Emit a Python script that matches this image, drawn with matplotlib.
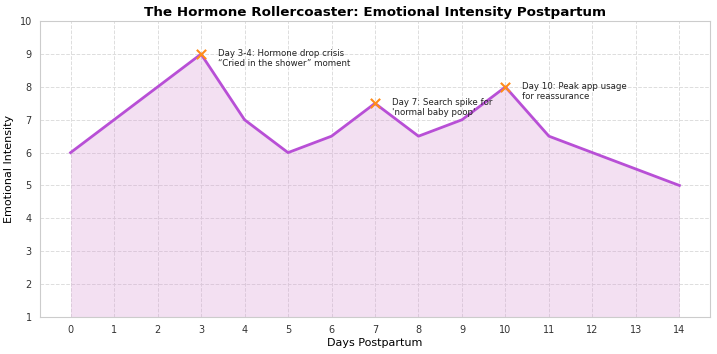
import numpy as np
import matplotlib; matplotlib.use("Agg"); import matplotlib.pyplot as plt

days = list(range(15))
intensity = [6, 7, 8, 9, 7, 6, 6.5, 7.5, 6.5, 7, 8, 6.5, 6, 5.5, 5]
event_days = [3, 7, 10]
event_labels = ["Day 3-4: Hormone drop crisis\n\u201cCried in the shower\u201d moment",
                "Day 7: Search spike for\n'normal baby poop'",
                "Day 10: Peak app usage\nfor reassurance"]

LINE = "#b84fd6"
plt.rcParams["font.family"] = "DejaVu Sans"

fig, ax = plt.subplots(figsize=(7.17, 3.54), dpi=100)
ax.fill_between(days, intensity, 1, color="#d899d6", alpha=0.3, lw=0)
ax.plot(days, intensity, color=LINE, lw=2)
for d, lbl in zip(event_days, event_labels):
    y = intensity[d]
    ax.scatter([d], [y], marker="x", color="#ff8c1a", s=45, lw=1.5, zorder=5)
    ax.annotate(lbl, (d, y), xytext=(12, -3), textcoords="offset points",
                fontsize=6.2, va="center", color="#222222", linespacing=1.15)

ax.set_xticks(days)
ax.set_ylim(1, 10)
ax.set_yticks(range(1, 11))
ax.set_xlim(-0.7, 14.7)
ax.grid(True, ls="--", color="#dddddd", lw=0.7)
ax.set_axisbelow(True)
for s in ax.spines.values():
    s.set_color("#cccccc")
ax.tick_params(length=0, labelsize=7, colors="#333333", pad=6)
ax.set_xlabel("Days Postpartum", fontsize=8, labelpad=2)
ax.set_ylabel("Emotional Intensity", fontsize=8)
ax.set_title("The Hormone Rollercoaster: Emotional Intensity Postpartum",
             fontsize=9.7, fontweight="bold", pad=4)
fig.subplots_adjust(left=0.056, right=0.99, top=0.94, bottom=0.105)
fig.savefig("out.png", dpi=100)
